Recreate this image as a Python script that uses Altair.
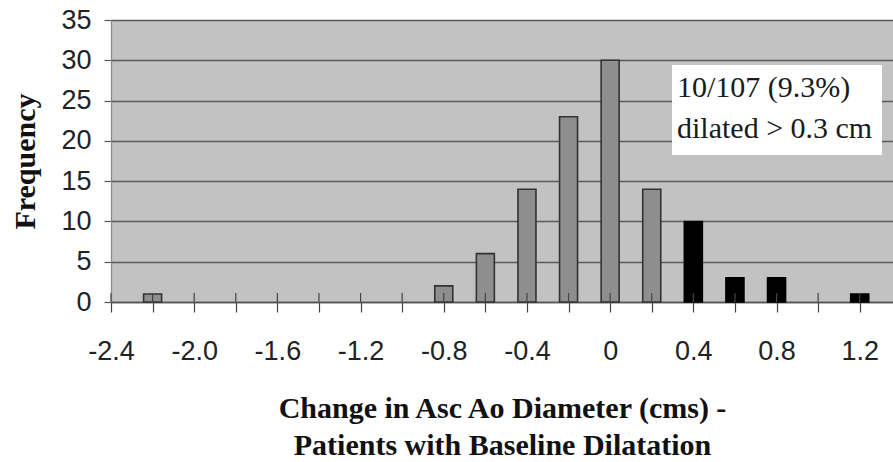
import altair as alt
import pandas as pd

# data
change = [-2.2, -0.8, -0.6, -0.4, -0.2, 0.0, 0.2, 0.4, 0.6, 0.8, 1.2]
frequency = [1, 2, 6, 14, 23, 30, 14, 10, 3, 3, 1]
group = ["not", "not", "not", "not", "not", "not", "not",
         "dilated", "dilated", "dilated", "dilated"]
tick_values = [-2.4, -2.2, -2.0, -1.8, -1.6, -1.4, -1.2, -1.0, -0.8, -0.6,
               -0.4, -0.2, 0.0, 0.2, 0.4, 0.6, 0.8, 1.0, 1.2]
y_ticks = [0, 5, 10, 15, 20, 25, 30, 35]
note_lines = ["10/107 (9.3%)", "dilated > 0.3 cm"]

df = pd.DataFrame({"change": change, "freq": frequency, "group": group})
ticks_df = pd.DataFrame({"t": tick_values})

x_scale = alt.Scale(domain=[-2.4, 1.36], nice=False, zero=False, padding=0)
y_scale = alt.Scale(domain=[0, 35], nice=False, padding=0)

label_expr = ("abs(round(datum.value*10)) % 4 == 0 ? "
              "(datum.value == 0 ? '0' : replace(format(datum.value, '.1f'), '\u2212', '-')) : ''")

bars = alt.Chart(df).mark_bar(size=18, strokeWidth=1.6).encode(
    x=alt.X("change:Q", scale=x_scale,
            axis=alt.Axis(values=tick_values, labelExpr=label_expr,
                          title=["Change in Asc Ao Diameter (cms) -",
                                 "Patients with Baseline Dilatation"],
                          titleFont="Liberation Serif", titleFontSize=30,
                          titleFontWeight="bold", titleColor="#111",
                          titleLineHeight=37, titleBaseline="top",
                          titleY=91, titleAnchor="middle",
                          labelFont="Liberation Sans", labelFontSize=27,
                          labelColor="#222", labelPadding=26,
                          labelOverlap=False, labelFlush=False,
                          tickSize=10, tickColor="#444", tickWidth=1.2,
                          domainColor="#555", domainWidth=1.5,
                          grid=False)),
    y=alt.Y("freq:Q", scale=y_scale,
            axis=alt.Axis(values=y_ticks, title="Frequency",
                          titleFont="Liberation Serif", titleFontSize=30,
                          titleFontWeight="bold", titleColor="#111",
                          titleX=-86, titleY=141, titleAlign="center",
                          titleBaseline="middle", titleAngle=270,
                          labelFont="Liberation Sans", labelFontSize=27,
                          labelColor="#222", labelPadding=13,
                          tickSize=7, tickColor="#555", tickWidth=1.2,
                          domainColor="#888", domainWidth=1.2,
                          grid=True, gridColor="#5a5a5a", gridWidth=1.3)),
    color=alt.Color("group:N", scale=alt.Scale(domain=["not", "dilated"],
                                               range=["#8e8e8e", "#000000"]),
                    legend=None),
    stroke=alt.Stroke("group:N", scale=alt.Scale(domain=["not", "dilated"],
                                                 range=["#333333", "#000000"]),
                      legend=None),
)

inner_ticks = alt.Chart(ticks_df).mark_rule(color="#444", strokeWidth=1.2).encode(
    x=alt.X("t:Q", scale=x_scale),
    y=alt.value(273),
    y2=alt.value(282),
)

note_box = alt.Chart(pd.DataFrame({"a": [0]})).mark_rect(color="white").encode(
    x=alt.value(561), x2=alt.value(771), y=alt.value(45), y2=alt.value(135)
)

note_text_1 = alt.Chart(pd.DataFrame({"line": [note_lines[0]]})).mark_text(
    align="left", baseline="alphabetic", font="Liberation Serif",
    fontSize=30, color="#1a1a1a"
).encode(x=alt.value(566), y=alt.value(77), text="line:N")

note_text_2 = alt.Chart(pd.DataFrame({"line": [note_lines[1]]})).mark_text(
    align="left", baseline="alphabetic", font="Liberation Serif",
    fontSize=30, color="#1a1a1a"
).encode(x=alt.value(566), y=alt.value(118), text="line:N")

chart = alt.layer(bars, inner_ticks, note_box, note_text_1, note_text_2).properties(
    width=782, height=282,
    autosize=alt.AutoSizeParams(type="none"),
    padding={"left": 111, "top": 20, "right": 0, "bottom": 160},
    background="white",
).configure_view(fill="#c2c2c2", stroke="#9a9a9a", strokeWidth=1)

chart.save("out.html", embed_options={"renderer": "svg", "actions": False})
